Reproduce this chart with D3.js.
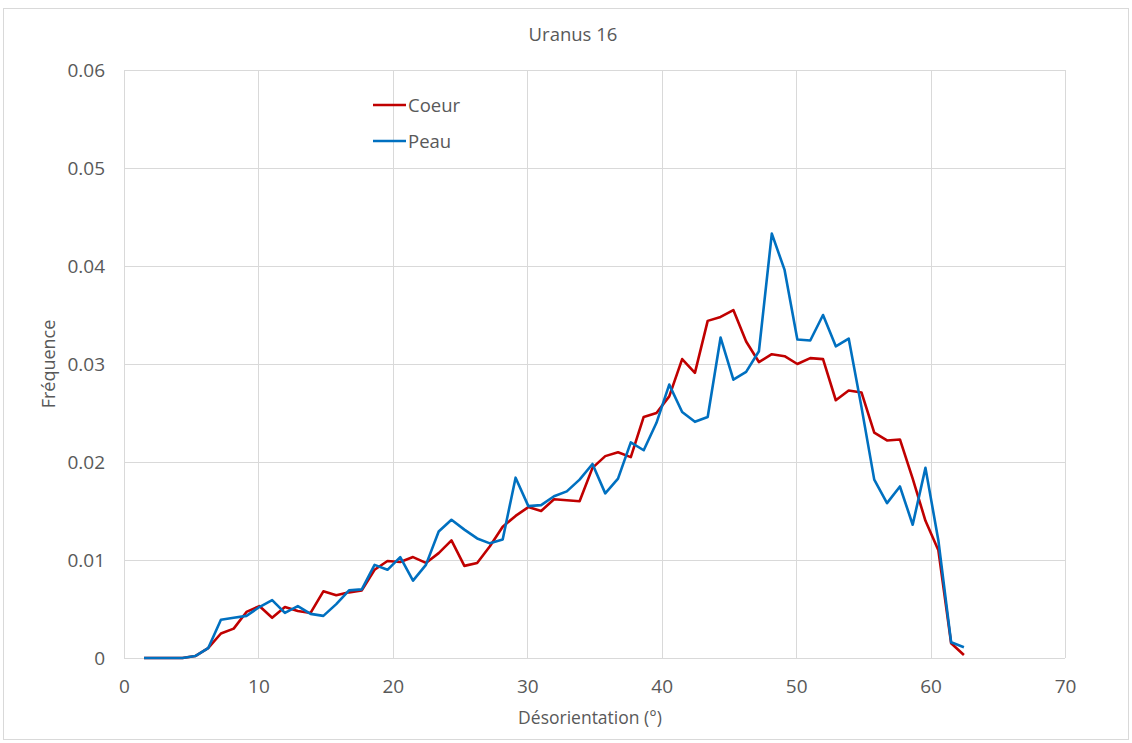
<!DOCTYPE html>
<html>
<head>
<meta charset="utf-8">
<script src="https://cdn.jsdelivr.net/npm/d3@7"></script>
<style>
  html, body { margin: 0; padding: 0; background: #fff; }
  svg { display: block; }
  text { font-family: "Open Sans", "Noto Sans", sans-serif; fill: #595959; }
</style>
</head>
<body>
<svg id="chart" width="1132" height="743"></svg>
<script>
// ---- data ----
const title = "Uranus 16";
const xTitle = "Désorientation (°)";
const yTitle = "Fréquence";
const seriesNames = ["Coeur", "Peau"];
const seriesColors = ["#C00000", "#0070C0"];
const xTicks = [0, 10, 20, 30, 40, 50, 60, 70];
const yTicks = [0, 0.01, 0.02, 0.03, 0.04, 0.05, 0.06];

const angles = [1.49, 2.44, 3.40, 4.35, 5.30, 6.26, 7.21, 8.16, 9.11, 10.07,
  11.02, 11.97, 12.93, 13.88, 14.83, 15.79, 16.74, 17.69, 18.64, 19.60,
  20.55, 21.50, 22.46, 23.41, 24.36, 25.32, 26.27, 27.22, 28.17, 29.13,
  30.08, 31.03, 31.99, 32.94, 33.89, 34.85, 35.80, 36.75, 37.70, 38.66,
  39.61, 40.56, 41.52, 42.47, 43.42, 44.38, 45.33, 46.28, 47.23, 48.19,
  49.14, 50.09, 51.05, 52.00, 52.95, 53.91, 54.86, 55.81, 56.76, 57.72,
  58.67, 59.62, 60.58, 61.53, 62.48];

const coeur = [0, 0, 0, 0, 0.0002, 0.0010, 0.0025, 0.0030, 0.0047, 0.0053,
  0.0041, 0.0052, 0.0048, 0.0046, 0.0068, 0.0064, 0.0067, 0.0069, 0.0090, 0.0099,
  0.0098, 0.0103, 0.0097, 0.0107, 0.0120, 0.0094, 0.0097, 0.0114, 0.0134, 0.0145,
  0.0154, 0.0150, 0.0162, 0.0161, 0.0160, 0.0194, 0.0206, 0.0210, 0.0205, 0.0246,
  0.0250, 0.0267, 0.0305, 0.0291, 0.0344, 0.0348, 0.0355, 0.0323, 0.0302, 0.0310,
  0.0308, 0.0300, 0.0306, 0.0305, 0.0263, 0.0273, 0.0271, 0.0230, 0.0222, 0.0223,
  0.0183, 0.0140, 0.0110, 0.0015, 0.0003];

const peau = [0, 0, 0, 0, 0.0002, 0.0010, 0.0039, 0.0041, 0.0043, 0.0052,
  0.0059, 0.0046, 0.0053, 0.0045, 0.0043, 0.0055, 0.0069, 0.0070, 0.0095, 0.0090,
  0.0103, 0.0079, 0.0095, 0.0129, 0.0141, 0.0131, 0.0122, 0.0117, 0.0121, 0.0184,
  0.0155, 0.0156, 0.0165, 0.0170, 0.0182, 0.0198, 0.0168, 0.0183, 0.0220, 0.0212,
  0.0240, 0.0279, 0.0251, 0.0241, 0.0246, 0.0327, 0.0284, 0.0292, 0.0313, 0.0433,
  0.0396, 0.0325, 0.0324, 0.0350, 0.0318, 0.0326, 0.0256, 0.0182, 0.0158, 0.0175,
  0.0136, 0.0194, 0.0120, 0.0016, 0.0011];

// ---- layout ----
const svg = d3.select("#chart");
const W = 1132, H = 743;
const plot = { left: 124, right: 1065, top: 70, bottom: 658 };

svg.append("rect").attr("x", 3.5).attr("y", 8.5).attr("width", W - 7).attr("height", H - 12)
  .attr("fill", "#fff").attr("stroke", "#d9d9d9").attr("stroke-width", 1);

const x = d3.scaleLinear().domain([0, 70]).range([plot.left, plot.right]);
const y = d3.scaleLinear().domain([0, 0.06]).range([plot.bottom, plot.top]);

// gridlines
const grid = svg.append("g");
grid.selectAll("line.v").data(xTicks).join("line")
  .attr("x1", d => Math.round(x(d)) + 0.5).attr("x2", d => Math.round(x(d)) + 0.5)
  .attr("y1", plot.top).attr("y2", plot.bottom)
  .attr("stroke", "#d9d9d9").attr("stroke-width", 1);
grid.selectAll("line.h").data(yTicks).join("line")
  .attr("x1", plot.left).attr("x2", plot.right)
  .attr("y1", d => Math.round(y(d)) + 0.5).attr("y2", d => Math.round(y(d)) + 0.5)
  .attr("stroke", "#d9d9d9").attr("stroke-width", 1);

// axes (labels only)
const xAxis = d3.axisBottom(x).tickValues(xTicks).tickSize(0).tickPadding(22).tickFormat(d3.format("d"));
const gx = svg.append("g").attr("transform", `translate(0,${plot.bottom})`).call(xAxis);
gx.select(".domain").remove();
gx.selectAll("text").style("font-size", "19px").style("font-family", "'Open Sans', sans-serif").attr("fill", "#595959");

const yAxis = d3.axisLeft(y).tickValues(yTicks).tickSize(0).tickPadding(19)
  .tickFormat(d => d === 0 ? "0" : d3.format(".2f")(d));
const gy = svg.append("g").attr("transform", `translate(${plot.left},0)`).call(yAxis);
gy.select(".domain").remove();
gy.selectAll("text").style("font-size", "19px").style("font-family", "'Open Sans', sans-serif").attr("fill", "#595959");

// titles
svg.append("text").attr("x", 573).attr("y", 41).attr("text-anchor", "middle")
  .style("font-size", "18.5px").text(title);
svg.append("text").attr("x", 590).attr("y", 724).attr("text-anchor", "middle")
  .style("font-size", "17.5px").text(xTitle);
svg.append("text").attr("transform", "translate(55,364) rotate(-90)").attr("text-anchor", "middle")
  .style("font-size", "18px").text(yTitle);

// lines
const line = d3.line().x(d => x(d[0])).y(d => y(d[1]));
const series = [coeur, peau];
series.forEach((vals, k) => {
  svg.append("path")
    .datum(angles.map((a, i) => [a, vals[i]]))
    .attr("fill", "none")
    .attr("stroke", seriesColors[k])
    .attr("stroke-width", 2.6)
    .attr("stroke-linejoin", "round")
    .attr("d", line);
});

// legend
const legend = svg.append("g");
seriesNames.forEach((name, k) => {
  const ly = 105 + k * 36;
  legend.append("line").attr("x1", 373).attr("x2", 406).attr("y1", ly).attr("y2", ly)
    .attr("stroke", seriesColors[k]).attr("stroke-width", 2.6);
  legend.append("text").attr("x", 408).attr("y", ly + 7).style("font-size", "18.5px").text(name);
});
</script>
</body>
</html>
